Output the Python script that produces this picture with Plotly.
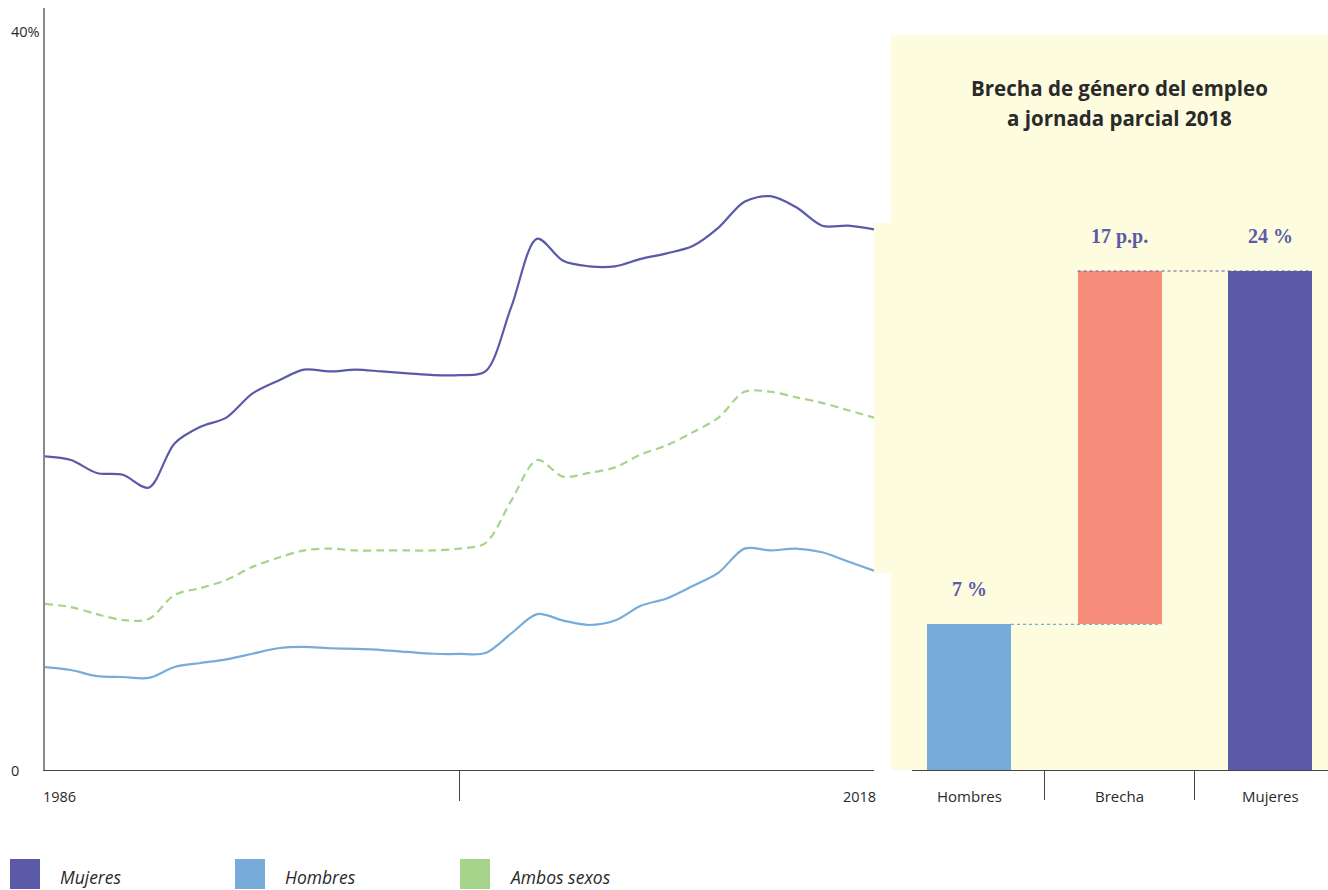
import plotly.graph_objects as go

# ---------------- data ----------------
years = list(range(1986, 2019))
mujeres = [17.0, 16.8, 16.1, 16.0, 15.3, 17.7, 18.6, 19.1, 20.4, 21.1,
           21.7, 21.6, 21.7, 21.6, 21.5, 21.4, 21.4, 21.6, 25.1, 28.8,
           27.6, 27.3, 27.3, 27.7, 28.0, 28.4, 29.4, 30.8, 31.1, 30.5,
           29.5, 29.5, 29.3]
hombres = [5.58, 5.42, 5.09, 5.04, 4.99, 5.58, 5.8, 6.0, 6.3, 6.6,
           6.67, 6.6, 6.56, 6.5, 6.4, 6.3, 6.29, 6.34, 7.4, 8.45,
           8.1, 7.86, 8.1, 8.9, 9.3, 9.97, 10.7, 12.0, 11.9, 12.0,
           11.8, 11.3, 10.8]
ambos = [9.0, 8.83, 8.45, 8.13, 8.18, 9.49, 9.86, 10.3, 11.0, 11.5,
         11.9, 12.0, 11.9, 11.9, 11.9, 11.9, 12.0, 12.3, 14.6, 16.8,
         15.9, 16.1, 16.4, 17.1, 17.6, 18.3, 19.1, 20.5, 20.5, 20.2,
         19.9, 19.5, 19.1]
series_names = ["Mujeres", "Hombres", "Ambos sexos"]

ytick_vals = [0, 40]
ytick_text = ["0", "40%"]
xtick_labels = [1986, 2018]
x_mid_tick = 2002

bar_cats = ["Hombres", "Brecha", "Mujeres"]
bar_values = [7, 17, 24]
bar_labels = ["7 %", "17 p.p.", "24 %"]
title_lines = ["Brecha de género del empleo", "a jornada parcial 2018"]

# ---------------- styles ----------------
C_MUJ = "#5B5AA8"
C_HOM = "#77ACDA"
C_AMB = "#A6D48B"
C_GAP = "#F98D7B"
C_BG = "#FDFCDF"
C_TXT = "#2a2a2a"
W, H = 1328, 890

def px_x(p):
    return p / W

def px_y(p):
    return (H - p) / H

fig = go.Figure()

fig.add_trace(go.Scatter(x=years, y=mujeres, mode="lines", name=series_names[0],
                         line=dict(color=C_MUJ, width=2.2, shape="spline", smoothing=0.9),
                         xaxis="x", yaxis="y", hoverinfo="skip"))
fig.add_trace(go.Scatter(x=years, y=hombres, mode="lines", name=series_names[1],
                         line=dict(color=C_HOM, width=2.2, shape="spline", smoothing=0.9),
                         xaxis="x", yaxis="y", hoverinfo="skip"))
fig.add_trace(go.Scatter(x=years, y=ambos, mode="lines", name=series_names[2],
                         line=dict(color=C_AMB, width=2.2, shape="spline", smoothing=0.9,
                                   dash="8px,5px"),
                         xaxis="x", yaxis="y", hoverinfo="skip"))

# bars (waterfall-like)
bar_w = 0.558
bar_bases = [0, bar_values[0], 0]
bar_tops = [b + v for b, v in zip(bar_bases, bar_values)]
xpos = list(range(len(bar_cats)))

# connectors
fig.add_trace(go.Scatter(x=[xpos[0] + bar_w / 2, xpos[1] + bar_w / 2],
                         y=[bar_tops[0], bar_tops[0]], mode="lines",
                         line=dict(color=C_HOM, width=1.2, dash="dot"),
                         xaxis="x2", yaxis="y2", hoverinfo="skip", showlegend=False))
fig.add_trace(go.Scatter(x=[xpos[1] - bar_w / 2, xpos[2] + bar_w / 2],
                         y=[bar_tops[1], bar_tops[2]], mode="lines",
                         line=dict(color=C_MUJ, width=1.2, dash="dot"),
                         xaxis="x2", yaxis="y2", hoverinfo="skip", showlegend=False))

fig.add_trace(go.Bar(x=xpos, y=bar_values, base=bar_bases, width=bar_w,
                     marker=dict(color=[C_HOM, C_GAP, C_MUJ], line=dict(width=0)),
                     xaxis="x2", yaxis="y2", hoverinfo="skip", showlegend=False))

y_dom = [px_y(770), px_y(8)]

layout = dict(
    width=W, height=H,
    margin=dict(l=0, r=0, t=0, b=0),
    paper_bgcolor="white", plot_bgcolor="rgba(0,0,0,0)",
    showlegend=False,
    font=dict(family="Open Sans", color=C_TXT, size=14),
    xaxis=dict(domain=[px_x(45), px_x(874)], range=[1986, 2018],
               showline=True, linecolor="#444", linewidth=1.2,
               showgrid=False, zeroline=False,
               tickvals=[x_mid_tick], ticktext=[""], ticks="outside",
               ticklen=30, tickcolor="#444", tickwidth=1.2),
    yaxis=dict(domain=y_dom, range=[0, 41.3],
               showline=True, linecolor="#8a8a8a", linewidth=1.8,
               showgrid=False, zeroline=False, showticklabels=False, ticks=""),
    xaxis2=dict(domain=[px_x(912), 1.0], range=[-0.379, 2.385], anchor="y2",
                showline=True, linecolor="#444", linewidth=1.2,
                showgrid=False, zeroline=False,
                tickvals=[0.5, 1.5], ticktext=["", ""], ticks="outside",
                ticklen=29, tickcolor="#444", tickwidth=1.2),
    yaxis2=dict(domain=y_dom, range=[0, 36.65], anchor="x2", visible=False),
    bargap=0,
)
fig.update_layout(**layout)

shapes = [
    dict(type="rect", xref="paper", yref="paper", x0=px_x(891), x1=1.0,
         y0=px_y(770), y1=px_y(35), fillcolor=C_BG, line=dict(width=0), layer="below"),
    dict(type="rect", xref="paper", yref="paper", x0=px_x(874), x1=px_x(891),
         y0=px_y(573), y1=px_y(223), fillcolor=C_BG, line=dict(width=0), layer="below"),
]

TICK_SIZE = 14.5
annotations = []
# y tick labels
for v, t in zip(ytick_vals, ytick_text):
    annotations.append(dict(x=px_x(9), xref="paper", y=v, yref="y", text=t,
                            showarrow=False, xanchor="left", yanchor="middle",
                            font=dict(size=TICK_SIZE, color=C_TXT)))
# x tick labels
annotations.append(dict(x=xtick_labels[0], xref="x", y=px_y(796), yref="paper",
                        text=str(xtick_labels[0]), showarrow=False, xanchor="left",
                        yanchor="middle", xshift=-4, font=dict(size=TICK_SIZE, color=C_TXT)))
annotations.append(dict(x=xtick_labels[1], xref="x", y=px_y(796), yref="paper",
                        text=str(xtick_labels[1]), showarrow=False, xanchor="right",
                        yanchor="middle", xshift=4, font=dict(size=TICK_SIZE, color=C_TXT)))
# bar category labels
for i, c in enumerate(bar_cats):
    annotations.append(dict(x=xpos[i], xref="x2", y=px_y(796), yref="paper", text=c,
                            showarrow=False, xanchor="center", yanchor="middle",
                            font=dict(size=TICK_SIZE + 0.5, color=C_TXT)))
# bar value labels
for i, lab in enumerate(bar_labels):
    annotations.append(dict(x=xpos[i], xref="x2", y=bar_tops[i], yref="y2",
                            text=f"<b>{lab}</b>", showarrow=False, xanchor="center",
                            yanchor="middle", yshift=35,
                            font=dict(family="Liberation Serif", size=20, color=C_MUJ)))
# title
for j, line in enumerate(title_lines):
    annotations.append(dict(x=px_x(1119), xref="paper", y=px_y(88 + 30 * j), yref="paper",
                            text=f"<b>{line}</b>", showarrow=False, xanchor="center",
                            yanchor="middle", font=dict(size=20.5, color=C_TXT)))
# legend
leg_x = [10, 235, 460]
leg_cols = [C_MUJ, C_HOM, C_AMB]
for name, lx, col in zip(series_names, leg_x, leg_cols):
    shapes.append(dict(type="rect", xref="paper", yref="paper", x0=px_x(lx), x1=px_x(lx + 30),
                       y0=px_y(889), y1=px_y(859), fillcolor=col, line=dict(width=0)))
    annotations.append(dict(x=px_x(lx + 48), xref="paper", y=px_y(877), yref="paper",
                            text=f"<i>{name}</i>", showarrow=False, xanchor="left",
                            yanchor="middle", font=dict(size=17.5, color=C_TXT)))

fig.update_layout(shapes=shapes, annotations=annotations)
fig.write_html("out.html")
